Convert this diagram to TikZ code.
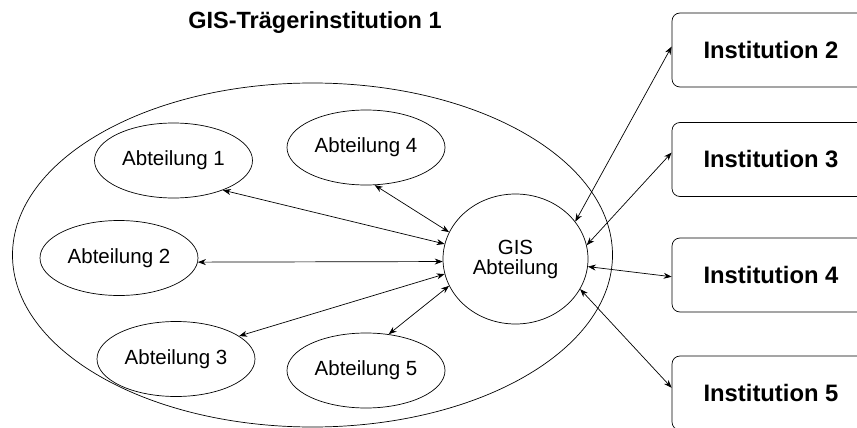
\documentclass[tikz,border=0pt]{standalone}
\usepackage{fontspec}
\setmainfont{Liberation Sans}
\usetikzlibrary{shapes.geometric,arrows.meta}
\begin{document}
\begin{tikzpicture}[x=1pt,y=-1pt,
  abt/.style={draw,ellipse,line width=0.7pt,inner sep=0pt,minimum width=158pt,minimum height=75pt,font=\fontsize{20.5}{22}\selectfont},
  inst/.style={draw,rectangle,rounded corners=8pt,line width=0.7pt,minimum width=198pt,minimum height=74pt,inner sep=0pt,font=\fontsize{23.8}{26}\selectfont\bfseries},
  link/.style={line width=0.7pt,{Stealth[length=8pt,width=6pt]}-{Stealth[length=8pt,width=6pt]}}
]
\useasboundingbox (0,0) rectangle (857,428);
\clip (0,0) rectangle (857,428);
\fill[white] (0,0) rectangle (857,428);

\node[font=\fontsize{23.5}{26}\selectfont\bfseries] (title) at (315,22) {GIS-Trägerinstitution 1};

\node[draw,ellipse,line width=0.7pt,inner sep=0pt,minimum width=600pt,minimum height=344pt] (org) at (312.5,255) {};

\node[abt] (a1) at (173.5,160.5) {Abteilung 1};
\node[abt] (a2) at (119,258) {Abteilung 2};
\node[abt] (a3) at (176,359) {Abteilung 3};
\node[abt] (a4) at (366,147.5) {Abteilung 4};
\node[abt] (a5) at (366,370.5) {Abteilung 5};

\node[draw,ellipse,line width=0.7pt,inner sep=0pt,minimum width=145pt,minimum height=130pt,align=center,font=\fontsize{20.5}{20}\selectfont] (gis) at (515.5,259) {GIS\\Abteilung};

\node[inst] (i2) at (771,50) {Institution 2};
\node[inst] (i3) at (771,159.5) {Institution 3};
\node[inst] (i4) at (771,275) {Institution 4};
\node[inst] (i5) at (771,393) {Institution 5};

\draw[link] (a1.-31) -- (gis.168);
\draw[link] (a4.-77) -- (gis.158);
\draw[link] (a2.-3) -- (gis.182);
\draw[link] (a3.20) -- (gis.192);
\draw[link] (a5.58) -- (gis.202);

\draw[link] (gis.32) -- (i2.178);
\draw[link] (gis.11) -- (i3.176);
\draw[link] (gis.-6) -- (i4.181);
\draw[link] (gis.-25) -- (i5.177);
\end{tikzpicture}
\end{document}
